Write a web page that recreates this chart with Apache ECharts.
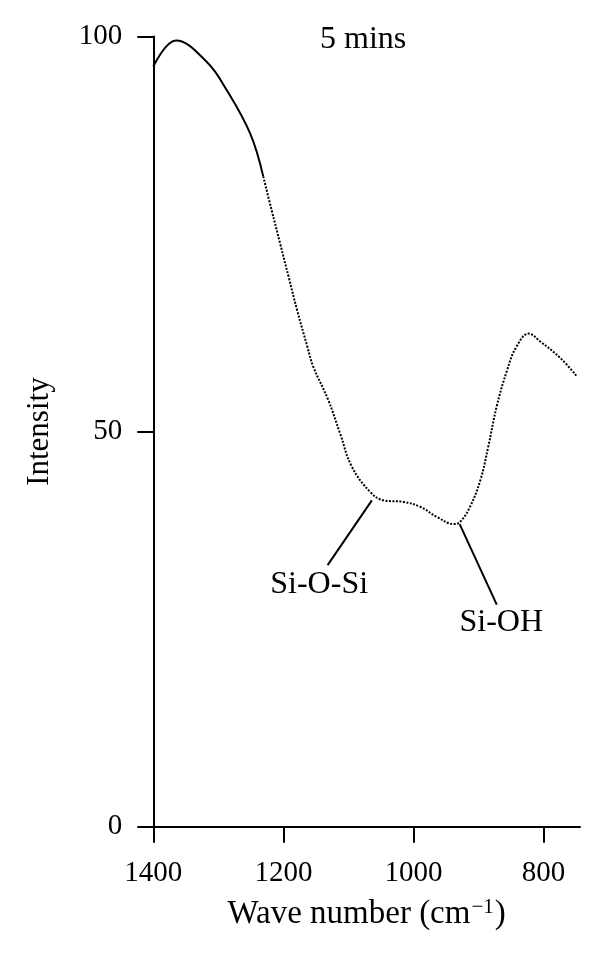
<!DOCTYPE html>
<html>
<head>
<meta charset="utf-8">
<script src="https://cdn.jsdelivr.net/npm/echarts@6/dist/echarts.min.js"></script>
<style>html,body{margin:0;padding:0;background:#fff}#c{width:600px;height:961px}</style>
</head>
<body>
<div id="c"></div>
<script>
// Wave number (cm^-1) and intensity
const waveNumbers = [1400, 1365, 1318, 1287, 1251, 1231, 1218, 1205, 1192, 1179, 1163, 1154, 1131, 1113, 1095, 1067, 1046, 1015, 990, 964, 938, 928, 913, 897, 885, 872, 856, 842, 823, 805, 774, 749];
const intensity   = [96.2, 99.5, 96.8, 93.2, 87.7, 82.3, 78.0, 73.8, 69.6, 65.4, 60.7, 58.2, 54.0, 49.8, 45.6, 42.4, 41.3, 41.1, 40.5, 39.2, 38.3, 38.6, 40.5, 43.9, 48.1, 53.2, 57.8, 60.7, 62.4, 61.4, 59.3, 57.0];
const solidCount = 6; // first points drawn solid, the rest dotted
const xTicks = [1400, 1200, 1000, 800];
const title = '5 mins';
// annotations: label, peak x/y, leader end x/y, label x/y
const annotationLabels = ['Si-O-Si', 'Si-OH'];
const annotationPeaks = [[1064, 41.3], [929, 38.3]];
const annotationEnds = [[1132, 33.1], [872, 28.1]];
const annotationTextAt = [[1145, 30.6], [865, 25.8]];

const pts = waveNumbers.map((x, i) => [x, intensity[i]]);
const solidPts = pts.slice(0, solidCount);
const dotPts = pts.slice(solidCount - 1);
const FONT = 'Liberation Serif';

const chart = echarts.init(document.getElementById('c'), null, {renderer: 'canvas'});
chart.setOption({
  backgroundColor: '#fff',
  animation: false,
  textStyle: {fontFamily: FONT, color: '#000'},
  graphic: [{
    type: 'text', left: 320, top: 24,
    style: {text: title, font: '32px "Liberation Serif"', fill: '#000'}
  }],
  grid: {left: 153.3, right: 20, top: 36.5, bottom: 134.3, containLabel: false},
  xAxis: {
    type: 'value', inverse: true, min: 744, max: 1400,
    name: '{a|Wave number (cm}{s|−1}{a|)}',
    nameLocation: 'middle', nameGap: 70,
    nameTextStyle: {
      rich: {
        a: {fontFamily: FONT, fontSize: 33, color: '#000', lineHeight: 36},
        s: {fontFamily: FONT, fontSize: 21, color: '#000', verticalAlign: 'top', lineHeight: 36, padding: [0, 1, 18, 1]}
      }
    },
    splitLine: {show: false},
    axisLine: {lineStyle: {color: '#000', width: 2}},
    axisTick: {show: true, length: 16, inside: false, customValues: xTicks, lineStyle: {color: '#000', width: 2}},
    axisLabel: {customValues: xTicks, margin: 32, fontFamily: FONT, fontSize: 29, color: '#000', formatter: v => String(v)}
  },
  yAxis: {
    type: 'value', min: 0, max: 100, interval: 50,
    name: 'Intensity', nameLocation: 'middle', nameGap: 98,
    nameTextStyle: {fontFamily: FONT, fontSize: 31, color: '#000'},
    splitLine: {show: false},
    axisLine: {show: true, lineStyle: {color: '#000', width: 2}},
    axisTick: {show: true, length: 16, lineStyle: {color: '#000', width: 2}},
    axisLabel: {margin: 31, fontFamily: FONT, fontSize: 29, color: '#000', formatter: v => String(v)}
  },
  series: [
    {
      type: 'line', data: solidPts, smooth: 0.4, showSymbol: false,
      lineStyle: {color: '#000', width: 2}
    },
    {
      type: 'line', data: dotPts, smooth: 0.4, showSymbol: false,
      lineStyle: {color: '#000', width: 2, type: [2, 1.5]},
      markLine: {
        silent: true, symbol: ['none', 'none'],
        lineStyle: {color: '#000', width: 2, type: 'solid'},
        label: {show: false},
        data: annotationPeaks.map((p, i) => [{coord: p}, {coord: annotationEnds[i]}])
      },
      markPoint: {
        silent: true, symbol: 'circle', symbolSize: 0,
        label: {show: true, position: 'inside', fontFamily: FONT, fontSize: 32, color: '#000', formatter: p => p.name},
        data: annotationLabels.map((n, i) => ({name: n, coord: annotationTextAt[i]}))
      }
    }
  ]
});
</script>
</body>
</html>
